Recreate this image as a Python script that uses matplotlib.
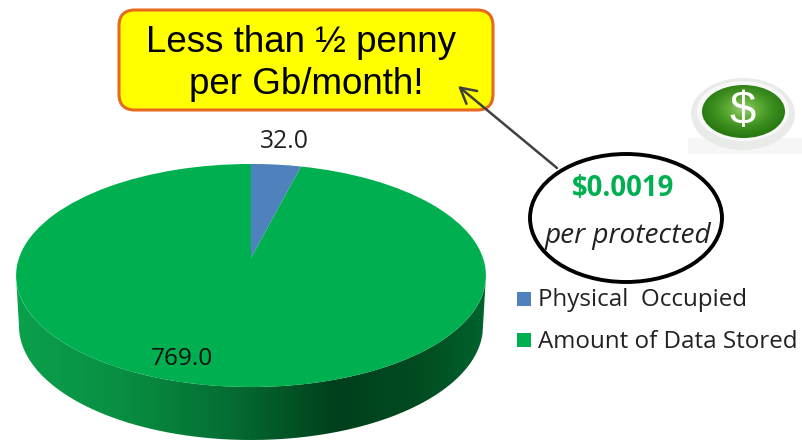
import numpy as np
import matplotlib
matplotlib.use("Agg")
import matplotlib.pyplot as plt
from matplotlib.patches import Ellipse, FancyBboxPatch, PathPatch, Rectangle
from matplotlib.path import Path
from matplotlib.transforms import Transform
from matplotlib.colors import LinearSegmentedColormap

categories = ["Physical  Occupied", "Amount of Data Stored"]
values = [32.0, 769.0]
colors = ["#4F81BD", "#00B050"]
callout_lines = ["Less than ½ penny", "per Gb/month!"]
cost_label = "$0.0019"
cost_note = "per protected"

W, H = 802, 440
fig = plt.figure(figsize=(W / 100, H / 100), dpi=100, facecolor="white")
ax = fig.add_axes([0, 0, 1, 1])


class Tilt(Transform):
    """Perspective tilt of the unit pie onto the page (pixel coordinates)."""
    input_dims = output_dims = 2
    cx, cy, a, b, k = 251.0, 258.0, 232.0, 108.8, -0.157

    def transform_non_affine(self, xy):
        xy = np.asarray(xy, float)
        d = 1 - self.k * xy[:, 1]
        return np.column_stack([self.cx + self.a * xy[:, 0] / d,
                                self.cy - self.b * xy[:, 1] / d])


wedges, _ = ax.pie(values, colors=colors, startangle=90, counterclock=False, radius=1.0)
tilt = Tilt() + ax.transData
for w in wedges:
    w.set_transform(tilt)
    w.set_linewidth(0)
    w.set_zorder(3)

# Side wall of the pie
t = np.linspace(np.pi, 2 * np.pi, 200)
top_x, top_y = 251 + 235 * np.cos(t), 275.5 - 111.5 * np.sin(t)
bot_x, bot_y = 251 + 232 * np.cos(t), 326 - 114 * np.sin(t)
wall = np.vstack([np.column_stack([top_x, top_y]),
                  np.column_stack([bot_x, bot_y])[::-1]])
wall_patch = PathPatch(Path(np.vstack([wall, wall[0]])), transform=ax.transData,
                       fc="none", ec="none")
ax.add_patch(wall_patch)
wall_cmap = LinearSegmentedColormap.from_list(
    "wall", [(0.0, "#0BA04C"), (0.22, "#088F42"), (0.45, "#056E33"),
             (0.68, "#00401C"), (0.85, "#004A20"), (1.0, "#00632D")])
im = ax.imshow(np.linspace(0, 1, 470)[None, :], cmap=wall_cmap, aspect="auto",
               extent=(16, 486, 445, 270), zorder=2)
im.set_clip_path(wall_patch)

# Data labels
ax.text(284.5, 141, f"{values[0]:.1f}", ha="center", va="center", fontsize=17.8,
        family="Open Sans", color="#222222", zorder=5)
ax.text(181.5, 359, f"{values[1]:.1f}", ha="center", va="center", fontsize=17.6,
        family="Open Sans", color="#111111", zorder=5)

# Legend
for yc, c, lab in zip([299, 340], colors, categories):
    ax.add_patch(Rectangle((517, yc - 7), 14, 14, fc=c, ec="none", zorder=5))
    ax.text(538, yc + 1.5, lab, ha="left", va="center", fontsize=17.4, family="Open Sans",
            color="#222222", zorder=5)

# Callout box
ax.add_patch(FancyBboxPatch((133, 24), 346, 72, boxstyle="round,pad=14,rounding_size=16",
                            fc="#FFFF00", ec="#E8681E", lw=2.2, zorder=4))
for x, y, s in zip([301, 306], [42, 85], callout_lines):
    ax.text(x, y, s, ha="center", va="center", fontsize=26.5,
            family="Liberation Sans", color="black", zorder=6)

# Ellipse note and arrow
ax.annotate("", xy=(458, 86), xytext=(557, 168), zorder=7,
            arrowprops=dict(arrowstyle="->,head_length=1.1,head_width=0.6",
                            color="#404040", lw=1.8, shrinkA=0, shrinkB=0))
ax.add_patch(Ellipse((626, 218), 192, 128, fc="white", ec="black", lw=2.8, zorder=5))
ax.text(623.5, 189, cost_label, ha="center", va="center", fontsize=19.8, weight="bold",
        family="Open Sans", color="#00B050", zorder=6)
ax.text(628, 236, cost_note, ha="center", va="center", fontsize=20.2, style="italic",
        family="Open Sans", color="#222222", zorder=6)

# Dollar icon
yy, xx = np.mgrid[-1:1:120j, -1:1:120j]
glow = np.clip(np.hypot(xx, yy + 0.1), 0, 1)
ax.add_patch(Rectangle((688, 138), 114, 16, fc="#F6F6F6", ec="none", zorder=1))
ax.add_patch(Ellipse((743, 114), 104, 72, fc="#E9EBE9", ec="none", zorder=2))
ax.add_patch(Ellipse((743, 111), 92, 60, fc="#F8F8F8", ec="none", zorder=2.2))
green = LinearSegmentedColormap.from_list("g", ["#9CCB7A", "#62AE38", "#3E9020", "#2A7A12"])
clip = Ellipse((743.5, 111.5), 83, 53, fc="none", ec="none", transform=ax.transData)
ax.add_patch(clip)
g = ax.imshow(glow, cmap=green, aspect="auto", extent=(701, 786, 139, 84), zorder=3)
g.set_clip_path(clip)
ax.text(743, 112, "$", ha="center", va="center", fontsize=34, color="white",
        family="Liberation Sans", zorder=4)

ax.set_aspect("auto")
ax.set_xlim(0, W)
ax.set_ylim(H, 0)
ax.set_axis_off()
fig.savefig("out.png", dpi=100)
